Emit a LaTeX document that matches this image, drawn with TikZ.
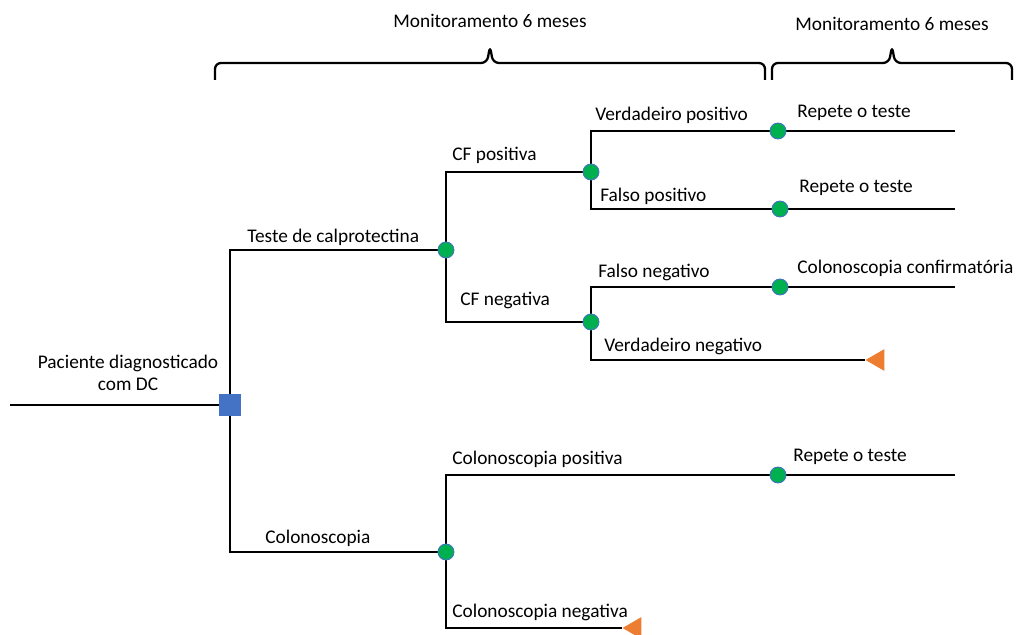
\documentclass[tikz,border=0pt]{standalone}
\usepackage{fontspec}
\setmainfont{Carlito}
\usetikzlibrary{shapes.geometric,backgrounds}
\definecolor{dtchance}{HTML}{00B050}
\definecolor{dtdecision}{HTML}{4472C4}
\definecolor{dtend}{HTML}{ED7D31}

\begin{document}
\begin{tikzpicture}[x=0.02cm,y=-0.02cm,
  chance/.style={circle,fill=dtchance,draw=dtdecision,line width=0.5pt,minimum size=0.32cm,inner sep=0},
  decision/.style={rectangle,fill=dtdecision,minimum size=0.44cm,inner sep=0},
  terminal/.style={regular polygon,regular polygon sides=3,shape border rotate=90,fill=dtend,minimum size=0.5cm,inner sep=0},
  lbl/.style={anchor=base west,inner sep=0,font=\fontsize{11}{13}\selectfont},
  branch/.style={line width=1.5pt},
  bracket/.style={line width=1.3pt,rounded corners=0.12cm}]
  \useasboundingbox (0,0) rectangle (1025,635);
  % nodes of the tree
  \coordinate (start) at (10,405);
  \node[decision] (dec) at (230,405) {};
  \node[chance] (calpro) at (446,250) {};
  \node[chance] (cfpos) at (591,172) {};
  \node[chance] (cfneg) at (591,322) {};
  \node[chance] (colono) at (446,552) {};
  \node[chance] (vp) at (778,131) {};
  \node[chance] (fp) at (780,209) {};
  \node[chance] (fn) at (780,287) {};
  \node[chance] (cpos) at (778,475) {};
  \node[terminal] (vn) at (878,360) {};
  \node[terminal] (cneg) at (635,628) {};
  \foreach \n/\y in {e1/131,e2/209,e3/287,e4/475}{\coordinate (\n) at (955,\y);}
  % connectors
  \begin{scope}[on background layer]
  \begin{scope}[branch]
    \draw (start) -- (dec);
    \draw (dec) |- (calpro);
    \draw (dec) |- (colono);
    \draw (calpro) |- (cfpos);
    \draw (calpro) |- (cfneg);
    \draw (cfpos) |- (vp) -- (e1);
    \draw (cfpos) |- (fp) -- (e2);
    \draw (cfneg) |- (fn) -- (e3);
    \draw (cfneg) |- (vn.west);
    \draw (colono) |- (cpos) -- (e4);
    \draw (colono) |- (cneg.west);
  \end{scope}
  \end{scope}
  % labels
  \node[align=center,inner sep=0,font=\fontsize{11}{12.5}\selectfont] (pac) at (128,373) {Paciente diagnosticado\\com DC};
  \node[lbl] (l1) at (247,242) {Teste de calprotectina};
  \node[lbl] (l2) at (452,161) {CF positiva};
  \node[lbl] (l3) at (460,305) {CF negativa};
  \node[lbl] (l4) at (595,121) {Verdadeiro positivo};
  \node[lbl] (l5) at (600,201) {Falso positivo};
  \node[lbl] (l6) at (598,277) {Falso negativo};
  \node[lbl] (l7) at (604,351) {Verdadeiro negativo};
  \node[lbl] (l8) at (265,543) {Colonoscopia};
  \node[lbl] (l9) at (452,464) {Colonoscopia positiva};
  \node[lbl] (l10) at (452,617) {Colonoscopia negativa};
  \node[lbl] (r1) at (797,118) {Repete o teste};
  \node[lbl] (r2) at (799,193) {Repete o teste};
  \node[lbl] (r3) at (797,273) {Colonoscopia confirmatória};
  \node[lbl] (r4) at (793,461) {Repete o teste};
  % monitoring braces
  \draw[bracket] (215,80) -- (215,63) -- (487,63) -- (490,46) -- (493,63) -- (765,63) -- (765,80);
  \draw[bracket] (772,80) -- (772,63) -- (889,63) -- (892,46) -- (895,63) -- (1012,63) -- (1012,80);
  \node[lbl,anchor=base] (mon1) at (490,28) {Monitoramento 6 meses};
  \node[lbl,anchor=base] (mon2) at (892,31) {Monitoramento 6 meses};
\end{tikzpicture}
\end{document}
